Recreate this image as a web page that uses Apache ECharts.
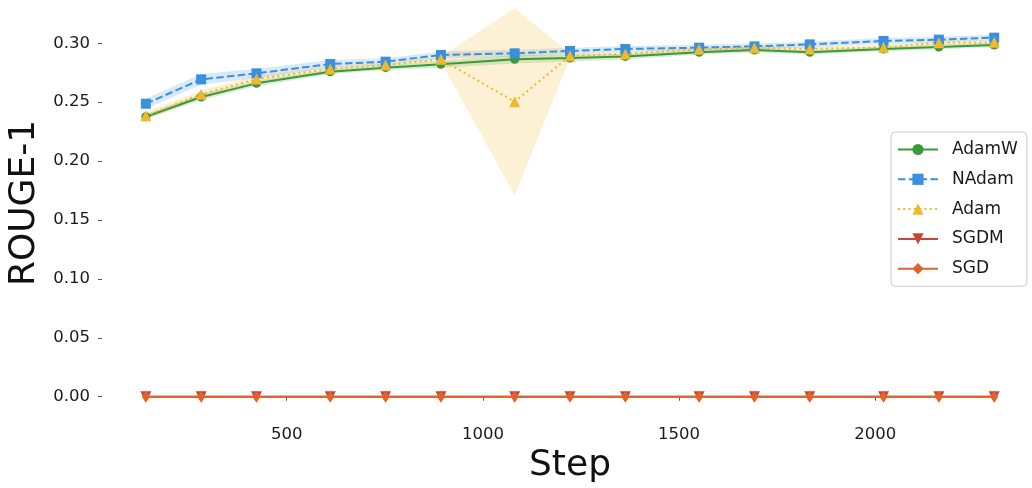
<!DOCTYPE html>
<html>
<head>
<meta charset="utf-8">
<script src="https://cdn.jsdelivr.net/npm/echarts@6/dist/echarts.min.js"></script>
<style>
html,body{margin:0;padding:0;background:#fff;}
#chart{width:1032px;height:488px;}
</style>
</head>
<body>
<div id="chart"></div>
<script>
// ---- data ----
const steps = [141, 282, 423, 611, 752, 893, 1081, 1222, 1363, 1551, 1692, 1833, 2021, 2162, 2303];
const adamw = [0.2377, 0.2544, 0.2660, 0.2759, 0.2793, 0.2822, 0.2864, 0.2875, 0.2887, 0.2924, 0.2943, 0.2924, 0.2952, 0.2969, 0.2986];
const adamwStd = [0.0020, 0.0025, 0.0025, 0.0020, 0.0020, 0.0030, 0.0035, 0.0030, 0.0025, 0.0020, 0.0020, 0.0020, 0.0020, 0.0020, 0.0020];
const nadam = [0.2487, 0.2694, 0.2745, 0.2824, 0.2844, 0.2901, 0.2915, 0.2935, 0.2952, 0.2963, 0.2974, 0.2991, 0.3020, 0.3031, 0.3048];
const nadamStd = [0.0042, 0.0045, 0.0040, 0.0035, 0.0030, 0.0030, 0.0030, 0.0025, 0.0025, 0.0025, 0.0025, 0.0025, 0.0025, 0.0025, 0.0025];
const adam = [0.2385, 0.2567, 0.2697, 0.2782, 0.2816, 0.2864, 0.2504, 0.2895, 0.2909, 0.2949, 0.2963, 0.2952, 0.2966, 0.3005, 0.3008];
const adamStd = [0.0030, 0.0035, 0.0030, 0.0025, 0.0020, 0.0020, 0.0793, 0.0020, 0.0020, 0.0020, 0.0020, 0.0020, 0.0020, 0.0020, 0.0020];
const sgdm = [0, 0, 0, 0, 0, 0, 0, 0, 0, 0, 0, 0, 0, 0, 0];
const sgd = [0, 0, 0, 0, 0, 0, 0, 0, 0, 0, 0, 0, 0, 0, 0];
const names = ['AdamW', 'NAdam', 'Adam', 'SGDM', 'SGD'];
const xTicks = [500, 1000, 1500, 2000];
const yTicks = [0, 0.05, 0.10, 0.15, 0.20, 0.25, 0.30];

const colors = {
  AdamW: '#3a9a3a',
  NAdam: '#3a8fde',
  Adam: '#efb82d',
  SGDM: '#cd4436',
  SGD: '#e0632b'
};

function pairs(vals) { return steps.map((s, i) => [s, vals[i]]); }

// shaded mean ± std band, drawn as one polygon through the grid's own scales
function band(name, mean, std, color) {
  const rows = steps.map((s, i) => [s, mean[i] - std[i], mean[i] + std[i]]);
  return {
    name: name + '_band', type: 'custom', data: rows, z: 1, silent: true,
    encode: { x: 0, y: [1, 2] },
    renderItem: function (params, api) {
      if (params.dataIndex !== 0) return null;
      const upper = rows.map(r => api.coord([r[0], r[2]]));
      const lower = rows.map(r => api.coord([r[0], r[1]])).reverse();
      return {
        type: 'polygon',
        shape: { points: upper.concat(lower) },
        style: { fill: color, opacity: 0.2 }
      };
    }
  };
}

function line(name, vals, symbol, size, lineType, extra) {
  return Object.assign({
    name: name, type: 'line', data: pairs(vals), z: 3,
    symbol: symbol, symbolSize: size, showAllSymbol: true,
    itemStyle: { color: colors[name] },
    lineStyle: { color: colors[name], width: 2, type: lineType },
    emphasis: { disabled: true }
  }, extra || {});
}

const font = 'DejaVu Sans';
const chart = echarts.init(document.getElementById('chart'), null, { renderer: 'canvas' });
chart.setOption({
  animation: false,
  backgroundColor: '#ffffff',
  grid: { left: 102, top: -11, width: 936, height: 428, containLabel: false, outerBoundsMode: 'none' },
  xAxis: {
    type: 'value', min: 29.3, max: 2414.6,
    name: 'Step', nameLocation: 'middle', nameGap: 29,
    nameTextStyle: { fontSize: 36, color: '#111', fontFamily: font },
    axisLine: { show: false },
    splitLine: { show: false },
    axisTick: { show: true, customValues: xTicks, length: 4, lineStyle: { color: '#555', width: 1 } },
    axisLabel: { customValues: xTicks, margin: 9, fontSize: 16.5, color: '#1a1a1a', fontFamily: font,
      formatter: v => String(v) }
  },
  yAxis: {
    type: 'value', min: -0.01723, max: 0.3461,
    name: 'ROUGE-1', nameLocation: 'middle', nameGap: 58,
    nameTextStyle: { fontSize: 36, color: '#111', fontFamily: font },
    axisLine: { show: false },
    splitLine: { show: false },
    axisTick: { show: true, customValues: yTicks, length: 4, lineStyle: { color: '#555', width: 1 } },
    axisLabel: { customValues: yTicks, margin: 12, fontSize: 16.5, color: '#1a1a1a', fontFamily: font,
      formatter: v => v.toFixed(2) }
  },
  legend: {
    data: names, orient: 'vertical', left: 891, top: 132,
    padding: [9, 9, 9, 6], itemWidth: 40, itemHeight: 14, itemGap: 12.8,
    backgroundColor: 'rgba(255,255,255,0.85)', borderColor: '#cccccc', borderWidth: 1, borderRadius: 4,
    textStyle: { fontSize: 17, color: '#1a1a1a', fontFamily: font, padding: [0, 0, 0, 9] }
  },
  series: [
    band('AdamW', adamw, adamwStd, colors.AdamW),
    band('NAdam', nadam, nadamStd, colors.NAdam),
    band('Adam', adam, adamStd, colors.Adam),
    line('AdamW', adamw, 'circle', 9, 'solid'),
    line('NAdam', nadam, 'rect', 10, [7.5, 3.3]),
    line('Adam', adam, 'triangle', 11, [2, 3.3]),
    line('SGDM', sgdm, 'triangle', 11, 'solid', { symbolRotate: 180 }),
    line('SGD', sgd, 'diamond', [8, 12], 'solid')
  ]
});
</script>
</body>
</html>
